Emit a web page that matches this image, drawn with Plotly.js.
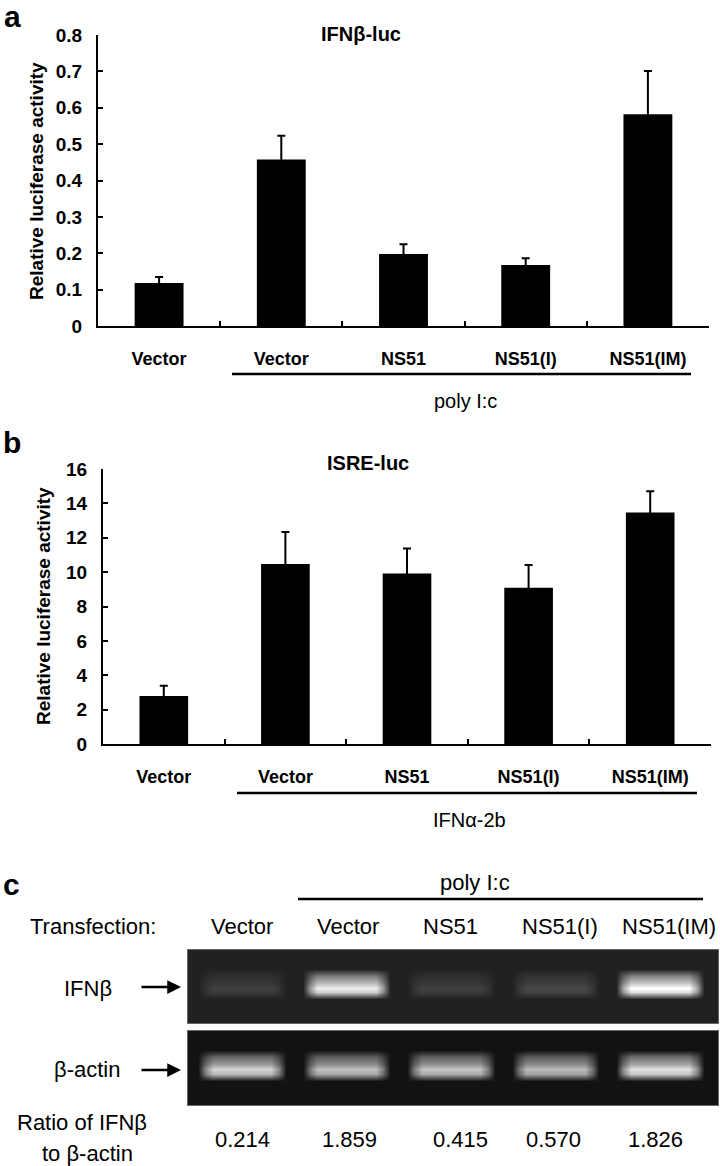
<!DOCTYPE html>
<html><head><meta charset="utf-8">
<script src="https://cdn.plot.ly/plotly-3.0.1.min.js"></script>
<style>html,body{margin:0;padding:0;background:#fff}</style>
</head><body><div id="chart" style="width:720px;height:1166px"></div>
<script>
// ---------- DATA ----------
const categories = ['Vector', 'Vector', 'NS51', 'NS51(I)', 'NS51(IM)'];
const ifnbLuc = [0.118, 0.458, 0.198, 0.168, 0.582];
const ifnbLucErr = [0.017, 0.065, 0.027, 0.018, 0.119];
const isreLuc = [2.79, 10.47, 9.92, 9.09, 13.47];
const isreLucErr = [0.60, 1.87, 1.45, 1.32, 1.24];
const yTicksA = [0, 0.1, 0.2, 0.3, 0.4, 0.5, 0.6, 0.7, 0.8];
const yTicksB = [0, 2, 4, 6, 8, 10, 12, 14, 16];
const laneLabels = ['Vector', 'Vector', 'NS51', 'NS51(I)', 'NS51(IM)'];
const ifnbBand = [0.12, 0.80, 0.12, 0.15, 0.88];   // band brightness above background
const actinBand = [0.76, 0.68, 0.70, 0.66, 0.82];
const ratios = ['0.214', '1.859', '0.415', '0.570', '1.826'];

// ---------- LAYOUT HELPERS ----------
const W = 720, H = 1166;
const px = v => v / W;
const py = v => 1 - v / H;
const FONT = 'Liberation Sans, Arial, sans-serif';
const idx = categories.map((c, i) => i);

// gel rendering (band shape profile = style)
const laneOffsets = [-0.42, -0.35, -0.28, 0.28, 0.35, 0.42];
const laneProfile = [0, 0.6, 1, 1, 0.6, 0];
const rowPos = [0, 0.26, 0.35, 0.44, 0.52, 0.58, 0.67, 1];
const rowProfile = [0, 0, 0.45, 0.7, 1, 0.85, 0, 0];
function gel(intens, bg) {
  const xs = [-0.6], pxs = [0];
  intens.forEach((v, i) => laneOffsets.forEach((o, k) => { xs.push(i + o); pxs.push(laneProfile[k] * v); }));
  xs.push(4.7); pxs.push(0);
  const z = rowPos.map((r, j) => pxs.map(p => bg + p * rowProfile[j]));
  return {xs, z};
}
const g1 = gel(ifnbBand, 0.13), g2 = gel(actinBand, 0.07);

const barCommon = {
  type: 'bar', x: idx, marker: {color: '#000', line: {width: 0}}, hoverinfo: 'skip'
};
const data = [
  Object.assign({}, barCommon, {y: ifnbLuc, xaxis: 'x', yaxis: 'y',
    error_y: {type: 'data', array: ifnbLucErr, symmetric: true, color: '#000', thickness: 2, width: 4}}),
  Object.assign({}, barCommon, {y: isreLuc, xaxis: 'x2', yaxis: 'y2',
    error_y: {type: 'data', array: isreLucErr, symmetric: true, color: '#000', thickness: 2, width: 4}}),
  {type: 'heatmap', x: g1.xs, y: rowPos, z: g1.z, xaxis: 'x3', yaxis: 'y3', zmin: 0, zmax: 1,
   zsmooth: 'best', colorscale: [[0, '#000'], [1, '#fff']], showscale: false, hoverinfo: 'skip'},
  {type: 'heatmap', x: g2.xs, y: rowPos, z: g2.z, xaxis: 'x4', yaxis: 'y4', zmin: 0, zmax: 1,
   zsmooth: 'best', colorscale: [[0, '#000'], [1, '#fff']], showscale: false, hoverinfo: 'skip'}
];

const xCat = (domain) => ({
  domain, type: 'category', range: [-0.5, 4.5], tickmode: 'array', tickvals: idx, ticktext: categories,
  tickson: 'boundaries', ticks: 'inside', ticklen: 5, tickwidth: 2, tickcolor: '#000',
  showline: true, linecolor: '#000', linewidth: 2, showgrid: false, zeroline: false,
  tickfont: {family: FONT, size: 18, weight: 700, color: '#000'}, ticklabelstandoff: 15, fixedrange: true
});
const yLin = (domain, range, tv) => ({
  domain, range, tickmode: 'array', tickvals: tv, ticktext: tv.map(String),
  ticks: 'inside', ticklen: 5, tickwidth: 2, tickcolor: '#000',
  showline: true, linecolor: '#000', linewidth: 2, showgrid: false, zeroline: false,
  tickfont: {family: FONT, size: 19, weight: 700, color: '#000'}, ticklabelstandoff: 10, fixedrange: true
});
const gelAxX = (anchor) => ({domain: [px(188), px(718)], range: [-0.517, 4.555], anchor,
  showline: true, mirror: true, linecolor: '#666', linewidth: 1, ticks: '', showticklabels: false,
  showgrid: false, zeroline: false, fixedrange: true});
const gelAxY = (domain, anchor) => ({domain, range: [1, 0], anchor,
  showline: true, mirror: true, linecolor: '#666', linewidth: 1, ticks: '', showticklabels: false,
  showgrid: false, zeroline: false, fixedrange: true});

const ann = [];
function txt(text, x, y, size, bold, extra) {
  ann.push(Object.assign({text, x: px(x), y: py(y), xref: 'paper', yref: 'paper', showarrow: false,
    xanchor: 'center', yanchor: 'middle',
    font: {family: FONT, size, color: '#000', weight: bold ? 700 : 400}}, extra || {}));
}
// panel a
txt('a', 12, 17, 30, true);
txt('IFNβ-luc', 361, 34, 20, true);
txt('Relative luciferase activity', 37, 181, 19, true, {textangle: -90});
txt('poly I:c', 465, 401, 20, false);
// panel b
txt('b', 12, 442, 30, true);
txt('ISRE-luc', 368, 463, 20, true);
txt('Relative luciferase activity', 43, 606, 19, true, {textangle: -90});
txt('IFNα-2b', 469, 820, 20, false);
// panel c
txt('c', 11, 884, 30, true);
txt('poly I:c', 475, 882, 22, false);
txt('Transfection:', 28, 926, 22, false, {xanchor: 'left'});
const laneTextX = [242, 348, 450, 560, 669];
laneLabels.forEach((l, i) => txt(l, laneTextX[i], 926, 22, false));
txt('IFNβ', 88, 988, 22, false);
txt('β-actin', 87, 1069, 22, false);
txt('Ratio of IFNβ', 82, 1122, 22, false);
txt('to β-actin', 87, 1153, 22, false);
const ratioX = [242, 349, 461, 553, 655];
ratios.forEach((r, i) => txt(r, ratioX[i], 1139, 22, false));
// arrows
[987, 1070].forEach(yy => ann.push({text: '', x: px(181), y: py(yy), xref: 'paper', yref: 'paper',
  showarrow: true, ax: -41, ay: 0, arrowhead: 2, arrowsize: 1.1, arrowwidth: 2.5, arrowcolor: '#000'}));

const line = (x0, x1, y) => ({type: 'line', xref: 'paper', yref: 'paper', x0: px(x0), x1: px(x1),
  y0: py(y), y1: py(y), line: {color: '#000', width: 2.5}});

const layout = {
  width: W, height: H, margin: {l: 0, r: 0, t: 0, b: 0},
  paper_bgcolor: '#fff', plot_bgcolor: 'rgba(0,0,0,0)', showlegend: false, bargap: 0.6,
  font: {family: FONT, color: '#000'},
  xaxis: Object.assign(xCat([px(98), px(709)]), {anchor: 'y'}),
  yaxis: Object.assign(yLin([py(326), py(35)], [0, 0.8], yTicksA), {anchor: 'x'}),
  xaxis2: Object.assign(xCat([px(103), px(711)]), {anchor: 'y2'}),
  yaxis2: Object.assign(yLin([py(744), py(469)], [0, 16], yTicksB), {anchor: 'x2'}),
  xaxis3: gelAxX('y3'), yaxis3: gelAxY([py(1023), py(950)], 'x3'),
  xaxis4: gelAxX('y4'), yaxis4: gelAxY([py(1105), py(1031)], 'x4'),
  annotations: ann,
  shapes: [line(232, 691, 374), line(237, 697, 793), line(298, 703, 899)]
};

Plotly.newPlot('chart', data, layout, {staticPlot: true, displayModeBar: false});
</script></body></html>
